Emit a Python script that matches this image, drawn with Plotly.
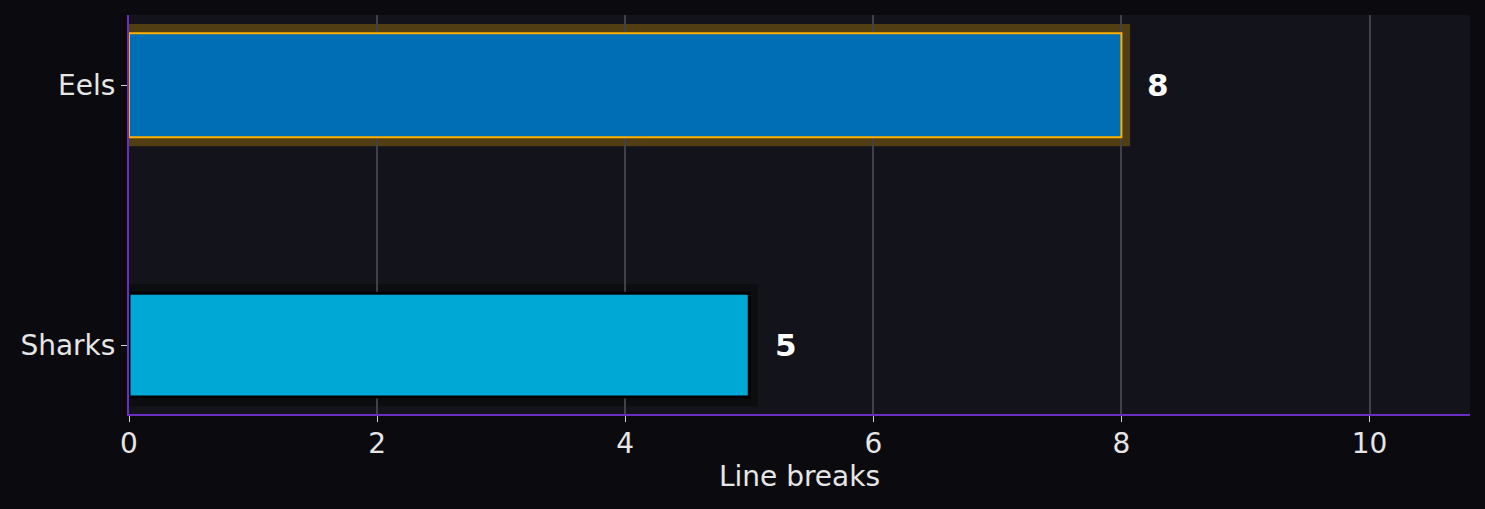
import plotly.graph_objects as go

categories = ["Sharks", "Eels"]
values = [5, 8]
bar_colors = ["#00a8d6", "#006eb4"]
outline_colors = ["#000000", "#ffb000"]
glow_colors = ["rgba(0,0,0,0.35)", "rgba(255,176,0,0.27)"]

pad = 0.07
bar_width = 0.4

fig = go.Figure()

# highlight boxes behind the bars
for i, (cat, v) in enumerate(zip(categories, values)):
    fig.add_shape(
        type="rect", xref="x", yref="y",
        x0=0, x1=v + pad,
        y0=i - bar_width / 2 - pad / 2, y1=i + bar_width / 2 + pad / 2,
        fillcolor=glow_colors[i], line=dict(width=0), layer="below",
    )

fig.add_trace(go.Bar(
    y=categories, x=values, orientation="h", width=bar_width,
    marker=dict(color=bar_colors, line=dict(color=outline_colors, width=[3, 2])),
    hoverinfo="x+y",
))

for cat, v in zip(categories, values):
    fig.add_annotation(
        x=v, y=cat, text="<b>%d</b>" % v, showarrow=False,
        xanchor="left", xshift=24,
        font=dict(size=31, color="#ffffff", family="DejaVu Sans"),
    )

fig.update_layout(
    width=1485, height=509,
    paper_bgcolor="#0b0b0f", plot_bgcolor="#13141b",
    margin=dict(l=129, r=15, t=15, b=95),
    font=dict(family="DejaVu Sans", size=28, color="#e6e6e6"),
    showlegend=False,
    xaxis=dict(
        range=[0, 10.81], dtick=2, showgrid=True, gridcolor="#414148", gridwidth=1.5,
        zeroline=False, showline=True, linecolor="#6a2ec0", linewidth=2,
        ticks="outside", ticklen=6, tickcolor="#d0d0d0",
        tickfont=dict(size=28), ticklabelstandoff=-3,
        title=dict(text="Line breaks", standoff=8, font=dict(size=28)),
    ),
    yaxis=dict(
        range=[-0.265, 1.27], showgrid=False, zeroline=False,
        showline=True, linecolor="#6a2ec0", linewidth=2,
        ticks="outside", ticklen=6, tickcolor="#d0d0d0",
        tickfont=dict(size=28),
    ),
)

fig.write_html(
    "out.html",
    config={"displayModeBar": False},
    post_script="document.body.style.margin='0';document.body.style.background='#0b0b0f';",
)
